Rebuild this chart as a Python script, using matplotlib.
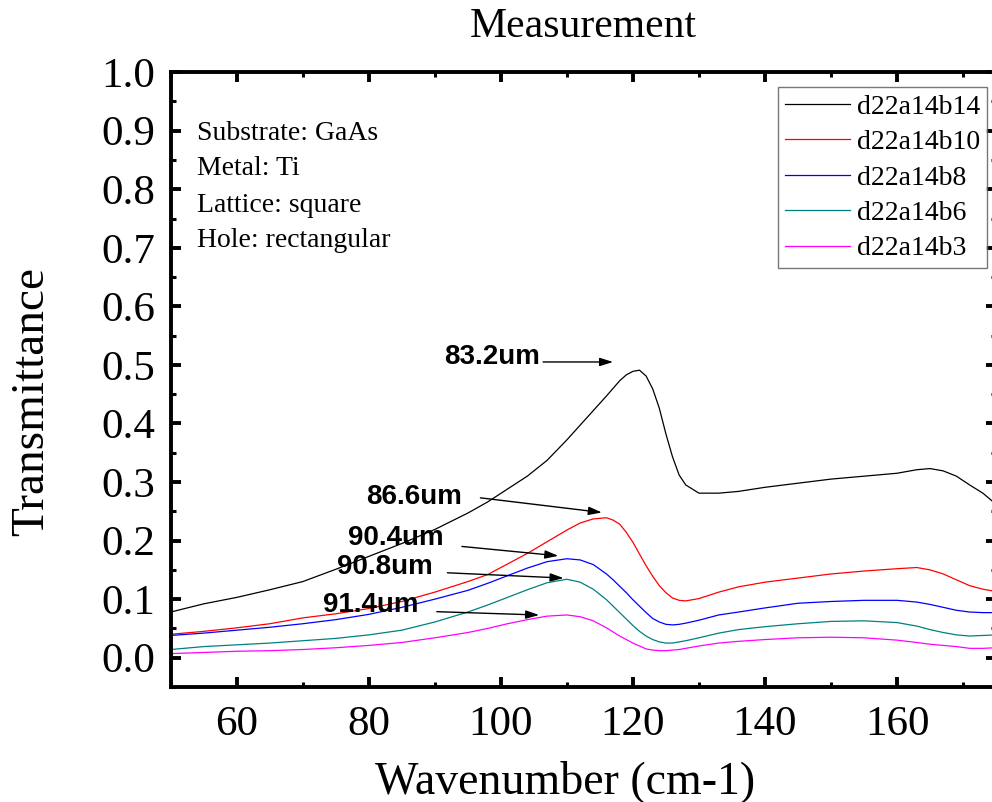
import matplotlib
matplotlib.use("Agg")
import matplotlib.pyplot as plt
from matplotlib.ticker import MultipleLocator, FormatStrFormatter

plt.rcParams['font.family'] = ['Liberation Serif', 'DejaVu Serif']

# wavenumber grid (cm-1)
wavenumber = [50, 55, 60, 65, 70, 75, 80, 85, 90, 95, 98, 101, 104, 107, 110,
              112, 114, 116, 117, 118, 119, 120, 121, 122, 123, 124, 125, 126,
              127, 128, 130, 133, 136, 140, 145, 150, 155, 160, 163, 165, 167,
              169, 171, 173, 175]

t_b14 = [0.078, 0.092, 0.103, 0.116, 0.130, 0.151, 0.173, 0.195, 0.219, 0.247,
         0.266, 0.288, 0.310, 0.337, 0.372, 0.397, 0.422, 0.447, 0.460, 0.473,
         0.483, 0.489, 0.491, 0.481, 0.459, 0.426, 0.382, 0.343, 0.312, 0.295,
         0.281, 0.281, 0.284, 0.291, 0.298, 0.305, 0.310, 0.315, 0.321, 0.323,
         0.319, 0.310, 0.295, 0.281, 0.262]
t_b10 = [0.040, 0.045, 0.051, 0.058, 0.068, 0.075, 0.084, 0.096, 0.112, 0.130,
         0.142, 0.160, 0.178, 0.198, 0.218, 0.230, 0.237, 0.239, 0.235, 0.228,
         0.214, 0.197, 0.177, 0.157, 0.139, 0.123, 0.111, 0.102, 0.098, 0.097,
         0.101, 0.112, 0.121, 0.129, 0.136, 0.143, 0.148, 0.152, 0.154, 0.150,
         0.143, 0.133, 0.123, 0.117, 0.113]
t_b8 = [0.038, 0.042, 0.047, 0.052, 0.058, 0.065, 0.074, 0.086, 0.100, 0.115,
        0.127, 0.140, 0.153, 0.164, 0.169, 0.167, 0.159, 0.143, 0.133, 0.122,
        0.111, 0.099, 0.088, 0.077, 0.067, 0.061, 0.057, 0.056, 0.057, 0.059,
        0.064, 0.073, 0.078, 0.085, 0.093, 0.096, 0.098, 0.098, 0.095, 0.091,
        0.086, 0.081, 0.078, 0.077, 0.077]
t_b6 = [0.014, 0.019, 0.022, 0.025, 0.029, 0.033, 0.039, 0.047, 0.061, 0.078,
        0.090, 0.103, 0.116, 0.128, 0.134, 0.129, 0.117, 0.099, 0.088, 0.077,
        0.066, 0.055, 0.045, 0.037, 0.031, 0.027, 0.025, 0.025, 0.027, 0.029,
        0.034, 0.042, 0.048, 0.053, 0.058, 0.062, 0.063, 0.060, 0.054, 0.048,
        0.043, 0.039, 0.037, 0.038, 0.039]
t_b3 = [0.007, 0.009, 0.011, 0.012, 0.014, 0.017, 0.021, 0.026, 0.034, 0.043,
        0.050, 0.058, 0.065, 0.071, 0.073, 0.070, 0.063, 0.051, 0.044, 0.037,
        0.031, 0.025, 0.020, 0.015, 0.013, 0.012, 0.012, 0.013, 0.014, 0.016,
        0.020, 0.025, 0.028, 0.031, 0.034, 0.035, 0.034, 0.030, 0.026, 0.023,
        0.021, 0.019, 0.016, 0.016, 0.017]

series_names = ['d22a14b14', 'd22a14b10', 'd22a14b8', 'd22a14b6', 'd22a14b3']
series_values = [t_b14, t_b10, t_b8, t_b6, t_b3]
colors = ['black', 'red', 'blue', '#008080', 'magenta']

# peak wavelength labels
peak_labels = ['83.2um', '86.6um', '90.4um', '90.8um', '91.4um']

info_lines = ['Substrate: GaAs', 'Metal: Ti', 'Lattice: square', 'Hole: rectangular']

fig = plt.figure(figsize=(9.92, 8.02), dpi=100)
ax = fig.add_axes([0.1721, 0.1434, 0.832, 0.7667])

for name, vals, c in zip(series_names, series_values, colors):
    ax.plot(wavenumber, vals, color=c, lw=0.9, label=name)

ax.set_xlim(50, 175)
ax.set_ylim(-0.05, 1.0)
ax.xaxis.set_major_locator(MultipleLocator(20))
ax.xaxis.set_minor_locator(MultipleLocator(10))
ax.yaxis.set_major_locator(MultipleLocator(0.1))
ax.yaxis.set_minor_locator(MultipleLocator(0.05))
ax.yaxis.set_major_formatter(FormatStrFormatter('%.1f'))

for sp in ax.spines.values():
    sp.set_linewidth(2.8)
ax.tick_params(which='both', direction='in', top=True, right=True)
ax.tick_params(which='major', length=7.5, width=2.8, labelsize=31)
ax.tick_params(which='minor', length=3.8, width=2.2)
ax.tick_params(axis='y', which='major', pad=11)
ax.tick_params(axis='x', which='major', pad=13)

ax.set_title('Measurement', fontsize=30, pad=25)
ax.set_xlabel('Wavenumber (cm-1)', fontsize=33)
ax.set_ylabel('Transmittance', fontsize=34)
ax.xaxis.set_label_coords(0.4778, -0.1195)
ax.yaxis.set_label_coords(-0.1426, 0.4635)

# sample description
info_y = [0.89, 0.832, 0.772, 0.716]
for txt, yy in zip(info_lines, info_y):
    ax.text(0.0316, yy, txt, transform=ax.transAxes, fontsize=20,
            ha='left', va='baseline')

leg = ax.legend(loc='upper right', bbox_to_anchor=(0.9891, 0.9753),
                borderaxespad=0, fontsize=20, frameon=True, fancybox=False,
                handlelength=2.34, handletextpad=0.25, labelspacing=0.36,
                borderpad=0.25)
leg.get_frame().set_edgecolor('#555555')
leg.get_frame().set_linewidth(1.0)

# label text centre and arrow start/end, in data coordinates
label_xy = [(98.7, 0.514), (86.9, 0.275), (84.1, 0.204), (82.4, 0.155), (80.3, 0.090)]
arrow_from = [(106.4, 0.505), (96.9, 0.273), (94.1, 0.190), (91.9, 0.145), (90.3, 0.0786)]
arrow_to = [(117.0, 0.505), (115.3, 0.248), (108.7, 0.174), (109.5, 0.136), (105.8, 0.0729)]

for lab, lxy, a0, a1 in zip(peak_labels, label_xy, arrow_from, arrow_to):
    ax.text(lxy[0], lxy[1], lab, fontsize=20, fontweight='bold',
            family=['Liberation Sans', 'DejaVu Sans'], ha='center', va='center')
    ax.annotate('', xy=a1, xytext=a0,
                arrowprops=dict(arrowstyle='-|>,head_length=0.8,head_width=0.25',
                                color='black', lw=1.0, shrinkA=0, shrinkB=0))

fig.savefig('out.png', dpi=100)
